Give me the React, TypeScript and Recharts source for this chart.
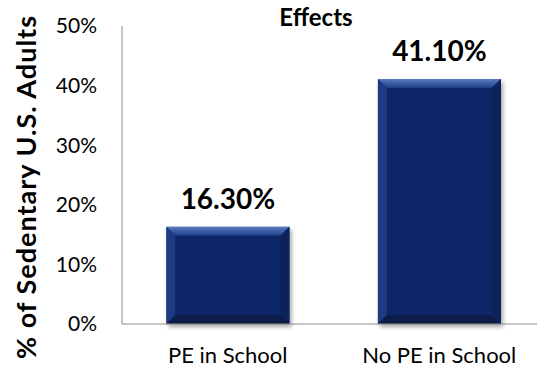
import React from 'react';
import { BarChart, Bar, XAxis, YAxis, LabelList, Label } from 'recharts';

const categories = ['PE in School', 'No PE in School'];
const sedentaryPct = [16.3, 41.1];
const yTicks = [0, 10, 20, 30, 40, 50];

const data = categories.map((name, i) => ({ name, value: sedentaryPct[i] }));

const FONT = 'Lato, "Open Sans", sans-serif';

// bevelled bar like the old Office "cool slant" style
const BevelBar = (props: any) => {
  const { x, y, width, height } = props;
  if (!height || height <= 0) return null;
  const b = 9;
  const r = x + width;
  const btm = y + height;
  return (
    <g filter="url(#barShadow)">
      <rect x={x} y={y} width={width} height={height} fill="#0c2868" />
      <polygon
        points={`${x},${y} ${r},${y} ${r - b},${y + b} ${x + b},${y + b}`}
        fill="url(#bevelTop)"
      />
      <polygon
        points={`${x},${y} ${x + b},${y + b} ${x + b},${btm - b} ${x},${btm}`}
        fill="#1a3a82"
      />
      <polygon
        points={`${r},${y} ${r},${btm} ${r - b},${btm - b} ${r - b},${y + b}`}
        fill="#092058"
      />
      <polygon
        points={`${x},${btm} ${x + b},${btm - b} ${r - b},${btm - b} ${r},${btm}`}
        fill="#071b4a"
      />
      <rect x={x + b} y={y + b} width={width - 2 * b} height={height - 2 * b} fill="#0b2767" />
    </g>
  );
};

const YTitle = (props: any) => {
  const { viewBox } = props;
  const cx = 36;
  const cy = viewBox.y + viewBox.height / 2 + 12;
  return (
    <text
      x={cx}
      y={cy}
      transform={`rotate(-90 ${cx} ${cy})`}
      textAnchor="middle"
      fontFamily={FONT}
      fontWeight={700}
      fontSize={27}
      letterSpacing={1}
      fill="#000"
    >
      % of Sedentary U.S. Adults
    </text>
  );
};

export default function App() {
  return (
    <div style={{ position: 'absolute', left: 0, top: 0, background: '#fff' }}>
      <BarChart
        width={537}
        height={369}
        data={data}
        margin={{ top: 26, right: -8, left: 0, bottom: 0 }}
        barCategoryGap="21%"
      >
        <defs>
          <linearGradient id="bevelTop" x1="0" x2="0" y1="0" y2="1">
            <stop offset="0%" stopColor="#5a7cc0" />
            <stop offset="100%" stopColor="#1c3d86" />
          </linearGradient>
          <filter id="barShadow" x="-10%" y="-10%" width="125%" height="125%">
            <feDropShadow dx="2" dy="3" stdDeviation="2" floodColor="#000" floodOpacity="0.35" />
          </filter>
        </defs>
        <text x={316} y={26} textAnchor="middle" fontFamily={FONT} fontWeight={700} fontSize={24} fill="#000">
          Effects
        </text>
        <XAxis
          dataKey="name"
          height={45}
          tickLine={false}
          tickSize={0}
          tickMargin={23}
          axisLine={{ stroke: '#8c8c8c' }}
          tick={{ fontFamily: FONT, fontSize: 22, fill: '#000' }}
        />
        <YAxis
          width={122}
          domain={[0, 50]}
          ticks={yTicks}
          tickFormatter={(v: number) => `${v}%`}
          tickLine={false}
          tickSize={0}
          tickMargin={25}
          axisLine={{ stroke: '#8c8c8c' }}
          tick={{ fontFamily: FONT, fontSize: 21, fill: '#000' }}
        >
          <Label content={<YTitle />} />
        </YAxis>
        <Bar dataKey="value" shape={<BevelBar />} isAnimationActive={false}>
          <LabelList
            dataKey="value"
            position="top"
            offset={18}
            formatter={(v: number) => `${v.toFixed(2)}%`}
            style={{ fontFamily: FONT, fontWeight: 700, fontSize: 28, fill: '#000' }}
          />
        </Bar>
      </BarChart>
    </div>
  );
}
